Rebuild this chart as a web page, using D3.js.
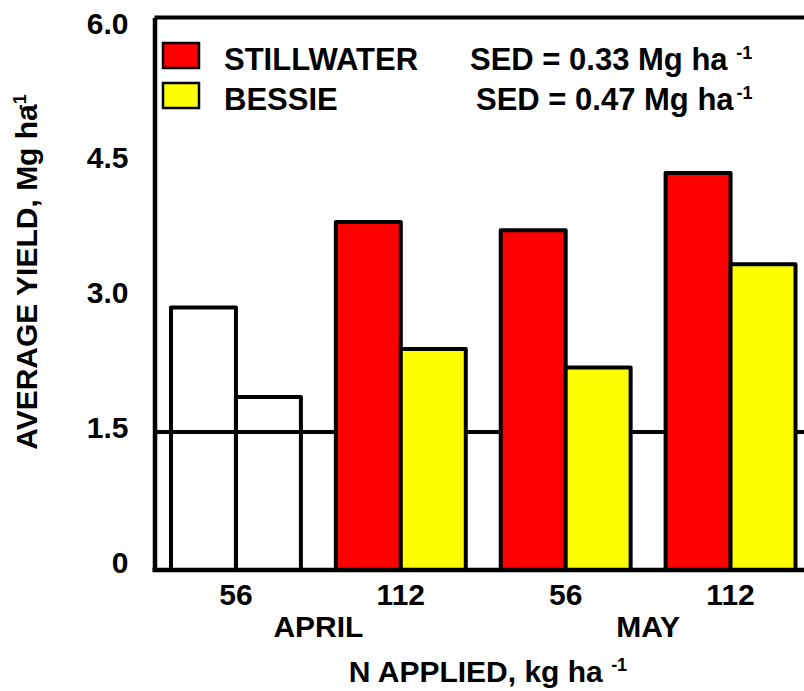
<!DOCTYPE html>
<html>
<head>
<meta charset="utf-8">
<script src="https://cdn.jsdelivr.net/npm/d3@7"></script>
<style>
  html, body { margin: 0; padding: 0; background: #fff; }
  svg { display: block; }
  text { font-family: 'Liberation Sans', Arial, sans-serif; font-weight: bold; fill: #000; }
</style>
</head>
<body>
<div id="chart"></div>
<script>
// values (Mg/ha)
const groups = ['April 56', 'April 112', 'May 56', 'May 112'];
const nRates = ['56', '112', '56', '112'];
const months = ['APRIL', 'MAY'];
const cultivars = ['STILLWATER', 'BESSIE'];
const stillwater = [2.85, 3.78, 3.69, 4.31];
const bessie = [1.88, 2.40, 2.20, 3.32];
const sedValues = ['0.33', '0.47'];
const yTicks = [0, 1.5, 3.0, 4.5, 6.0];
const refLine = 1.5;

const W = 804, H = 691;
const M = { left: 154.5, top: 17.5, right: 812, bottom: 570 };
const colors = { STILLWATER: '#ff0000', BESSIE: '#ffff00' };
const HOLLOW_GROUP = 'April 56'; // drawn as open bars in the original

const svg = d3.select('#chart').append('svg').attr('width', W).attr('height', H);

const x0 = d3.scaleBand().domain(groups).range([M.left, M.right]).paddingInner(0.212).paddingOuter(0.1);
const x1 = d3.scaleBand().domain(cultivars).range([0, x0.bandwidth()]);
const y = d3.scaleLinear().domain([0, 6]).range([M.bottom, M.top]);
// tick labels in the figure sit on a slightly tighter spacing than the gridline
const yLabel = d3.scaleLinear().domain([0, 6]).range([572, 33]);

const data = groups.map((g, i) => ({ group: g, values: [
  { key: 'STILLWATER', value: stillwater[i] },
  { key: 'BESSIE', value: bessie[i] }
]}));

// reference line at 1.5
svg.append('line')
  .attr('x1', M.left).attr('x2', W + 20)
  .attr('y1', y(refLine)).attr('y2', y(refLine))
  .attr('stroke', '#000').attr('stroke-width', 4);

// bars
const g = svg.selectAll('.grp').data(data).enter().append('g')
  .attr('class', 'grp')
  .attr('transform', (d) => `translate(${x0(d.group)},0)`);

g.selectAll('rect')
  .data((d) => d.values.map((v) => ({ ...v, group: d.group })))
  .enter().append('rect')
  .attr('x', (d) => x1(d.key))
  .attr('width', x1.bandwidth())
  .attr('y', (d) => y(d.value))
  .attr('height', (d) => y(0) - y(d.value))
  .attr('fill', (d) => (d.group === HOLLOW_GROUP ? 'none' : colors[d.key]))
  .attr('stroke', '#000')
  .attr('stroke-width', 4)
  .attr('stroke-linejoin', 'round');

// frame: top line
svg.append('line')
  .attr('x1', M.left).attr('x2', W + 20)
  .attr('y1', y(6)).attr('y2', y(6))
  .attr('stroke', '#000').attr('stroke-width', 4);

// left axis line
const yAxis = svg.append('g').attr('transform', `translate(${M.left},0)`)
  .call(d3.axisLeft(y).tickValues([]).tickSizeOuter(0));
yAxis.select('.domain').attr('stroke-width', 4.5);

// y tick labels
const yLab = svg.append('g').attr('transform', `translate(${M.left},0)`)
  .call(d3.axisLeft(yLabel).tickValues(yTicks).tickSize(0).tickPadding(26)
    .tickFormat((d) => (d === 0 ? '0' : d3.format('.1f')(d))));
yLab.select('.domain').remove();
yLab.selectAll('text')
  .attr('dy', 0)
  .style('font-size', '30px')
  .style('font-family', "'Liberation Sans', Arial, sans-serif")
  .style('font-weight', 'bold');

// bottom axis
const xAxis = svg.append('g').attr('transform', `translate(0,${M.bottom})`)
  .call(d3.axisBottom(x0).tickSize(0).tickSizeOuter(0).tickPadding(35)
    .tickFormat((d, i) => nRates[i]));
xAxis.select('.domain').attr('stroke-width', 4.5)
  .attr('d', `M${M.left - 2},0H${W + 20}`);
xAxis.selectAll('text')
  .attr('dy', 0)
  .style('font-size', '30px')
  .style('font-family', "'Liberation Sans', Arial, sans-serif")
  .style('font-weight', 'bold');

// month labels
months.forEach((m, i) => {
  const a = x0(groups[i * 2]) + x0.bandwidth() / 2;
  const b = x0(groups[i * 2 + 1]) + x0.bandwidth() / 2;
  svg.append('text')
    .attr('x', (a + b) / 2).attr('y', 637)
    .attr('text-anchor', 'middle')
    .style('font-size', '30px')
    .text(m);
});

// x title
const xt = svg.append('text')
  .attr('x', 488).attr('y', 682)
  .attr('text-anchor', 'middle')
  .style('font-size', '30px');
xt.append('tspan').text('N APPLIED, kg ha ');
xt.append('tspan').attr('dy', -11).style('font-size', '18px').text('-1');

// y title
const yt = svg.append('text')
  .attr('transform', 'translate(37,272) rotate(-90)')
  .attr('text-anchor', 'middle')
  .style('font-size', '30px');
yt.append('tspan').text('AVERAGE YIELD, Mg ha');
yt.append('tspan').attr('dx', -6).attr('dy', -11).style('font-size', '18px').text('-1');

// legend
const legend = svg.append('g');
cultivars.forEach((c, i) => {
  const top = 43 + i * 40;
  legend.append('rect')
    .attr('x', 163).attr('y', top)
    .attr('width', 36).attr('height', 25)
    .attr('fill', colors[c])
    .attr('stroke', '#000').attr('stroke-width', 2.5);
  legend.append('text')
    .attr('x', 224).attr('y', top + 27)
    .style('font-size', '31px')
    .text(c);
  const t = legend.append('text')
    .attr('x', i === 0 ? 470 : 476).attr('y', top + 27)
    .style('font-size', '31px');
  t.append('tspan').text(`SED = ${sedValues[i]} Mg ha` + (i === 0 ? ' ' : ''));
  t.append('tspan').attr('dx', i === 0 ? 0 : 3).attr('dy', -11).style('font-size', '18px').text('-1');
});
</script>
</body>
</html>
